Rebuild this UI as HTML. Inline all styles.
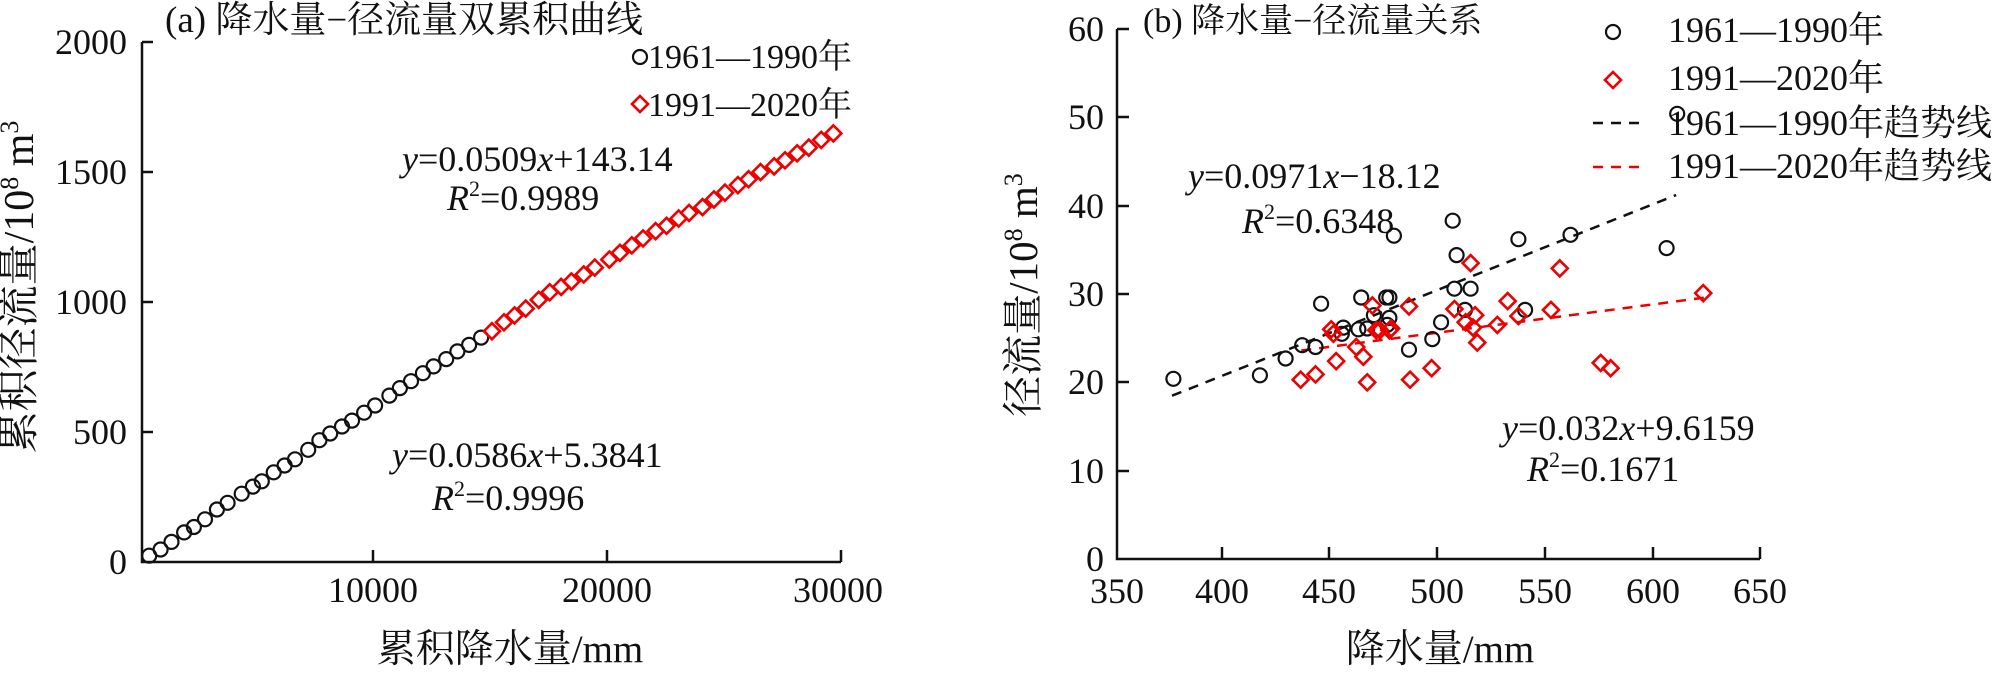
<!DOCTYPE html>
<html><head><meta charset="utf-8"><style>
html,body{margin:0;padding:0;background:#fff;}
svg{display:block;font-family:"Liberation Serif","Noto Serif CJK SC","Noto Sans CJK SC",serif;}
</style></head><body>
<svg id="s" width="2000" height="674" xmlns="http://www.w3.org/2000/svg">
<g stroke="#111" stroke-width="2.5" fill="none">
<polyline points="142,42 142,562 841,562"/>
<line x1="142" y1="42" x2="153" y2="42"/><line x1="142" y1="172" x2="153" y2="172"/>
<line x1="142" y1="302" x2="153" y2="302"/><line x1="142" y1="432" x2="153" y2="432"/>
<line x1="373" y1="562" x2="373" y2="550"/><line x1="607" y1="562" x2="607" y2="550"/><line x1="841" y1="562" x2="841" y2="550"/>
<polyline points="1117,29 1117,559 1760,559"/>
<line x1="1117" y1="29" x2="1129" y2="29"/><line x1="1117" y1="117" x2="1129" y2="117"/>
<line x1="1117" y1="206" x2="1129" y2="206"/><line x1="1117" y1="294" x2="1129" y2="294"/>
<line x1="1117" y1="382" x2="1129" y2="382"/><line x1="1117" y1="471" x2="1129" y2="471"/>
<line x1="1222" y1="559" x2="1222" y2="547"/><line x1="1329" y1="559" x2="1329" y2="547"/>
<line x1="1437" y1="559" x2="1437" y2="547"/><line x1="1545" y1="559" x2="1545" y2="547"/>
<line x1="1653" y1="559" x2="1653" y2="547"/><line x1="1760" y1="559" x2="1760" y2="547"/>
</g>
<g font-size="36" fill="#111" text-anchor="end">
<text x="127" y="54">2000</text><text x="127" y="184">1500</text><text x="127" y="314">1000</text>
<text x="127" y="444">500</text><text x="127" y="574">0</text>
<text x="1104" y="41">60</text><text x="1104" y="129">50</text><text x="1104" y="218">40</text>
<text x="1104" y="306">30</text><text x="1104" y="394">20</text><text x="1104" y="483">10</text><text x="1104" y="571">0</text>
</g>
<g font-size="36" fill="#111" text-anchor="middle">
<text x="373" y="602">10000</text><text x="607" y="602">20000</text><text x="838" y="602">30000</text>
<text x="1117" y="603">350</text><text x="1222" y="603">400</text><text x="1329" y="603">450</text>
<text x="1437" y="603">500</text><text x="1545" y="603">550</text><text x="1653" y="603">600</text><text x="1760" y="603">650</text>
</g>
<g font-size="39" fill="#111">
<text x="510" y="662" text-anchor="middle">累积降水量/mm</text>
<text x="1440" y="662" text-anchor="middle">降水量/mm</text>
<text transform="translate(33,287) rotate(-90)" text-anchor="middle" font-size="42">累积径流量/10<tspan font-size="26" dy="-15">8</tspan><tspan dy="15"> m</tspan><tspan font-size="26" dy="-15">3</tspan></text>
<text transform="translate(1037,295) rotate(-90)" text-anchor="middle" font-size="41">径流量/10<tspan font-size="26" dy="-15">8</tspan><tspan dy="15"> m</tspan><tspan font-size="26" dy="-15">3</tspan></text>
</g>
<g fill="#111">
<text x="165" y="32" font-size="37">(a) 降水量−径流量双累积曲线</text>
<text x="1143" y="32" font-size="34">(b) 降水量−径流量关系</text>
<text x="648" y="68" font-size="34">1961—1990年</text>
<text x="648" y="116" font-size="34">1991—2020年</text>
</g>
<g font-size="36" fill="#111">
<text x="1668" y="42">1961—1990年</text>
<text x="1668" y="90">1991—2020年</text>
<text x="1668" y="135">1961—1990年趋势线</text>
<text x="1668" y="178">1991—2020年趋势线</text>
<text x="402" y="171"><tspan font-style="italic">y</tspan>=0.0509<tspan font-style="italic">x</tspan>+143.14</text>
<text x="447" y="210"><tspan font-style="italic">R</tspan><tspan font-size="22" dy="-14">2</tspan><tspan dy="14">=0.9989</tspan></text>
<text x="392" y="467"><tspan font-style="italic">y</tspan>=0.0586<tspan font-style="italic">x</tspan>+5.3841</text>
<text x="432" y="510"><tspan font-style="italic">R</tspan><tspan font-size="22" dy="-14">2</tspan><tspan dy="14">=0.9996</tspan></text>
<text x="1188" y="188"><tspan font-style="italic">y</tspan>=0.0971<tspan font-style="italic">x</tspan>−18.12</text>
<text x="1242" y="233"><tspan font-style="italic">R</tspan><tspan font-size="22" dy="-14">2</tspan><tspan dy="14">=0.6348</tspan></text>
<text x="1502" y="440"><tspan font-style="italic">y</tspan>=0.032<tspan font-style="italic">x</tspan>+9.6159</text>
<text x="1527" y="481"><tspan font-style="italic">R</tspan><tspan font-size="22" dy="-14">2</tspan><tspan dy="14">=0.1671</tspan></text>
</g>
<line x1="1593" y1="123" x2="1641" y2="123" stroke="#111" stroke-width="2.5" stroke-dasharray="10,8"/>
<line x1="1593" y1="167" x2="1641" y2="167" stroke="#e00" stroke-width="2.5" stroke-dasharray="10,8"/>
<g id="pts"></g>
</svg>
<script>
var B=[[377.6,20.4],[417.8,20.8],[429.7,22.7],[437.4,24.2],[443.6,24.0],[446.2,28.9],[455.8,25.5],[456.5,26.2],[463.5,26.0],[464.8,29.6],[467.6,26.1],[470.7,27.6],[476.4,29.6],[477.9,29.6],[477.9,27.3],[476.9,26.5],[480,36.6],[487,23.7],[497.8,24.9],[501.9,26.8],[507.3,38.3],[508.1,30.6],[509.1,34.4],[513,28.2],[515.6,30.6],[537.8,36.2],[540.9,28.2],[562,36.7],[606.6,35.2],[611.5,50.4]];
var R=[[436.7,20.3],[443.6,20.9],[450.9,26.0],[451.9,25.5],[453.2,22.4],[462.5,24.0],[465.8,22.9],[467.6,20.0],[470,28.7],[471.8,25.9],[473.5,25.9],[477.9,25.9],[478.7,26.1],[487,28.6],[487.5,20.3],[497.5,21.6],[508.1,28.3],[513.3,26.8],[515.6,33.5],[516.7,26.2],[517.7,27.6],[518.7,24.5],[528,26.5],[532.8,29.2],[537.8,27.5],[552.9,28.2],[557,32.9],[576,22.2],[580.6,21.6],[623.6,30.1]];
var g=document.getElementById('pts'),h='';
function bx(v){return 1437+(v-500)*2.154;}function by(v){return 559-v*8.833;}
function ax(v){return 139+v*0.0234;}function ay(v){return 562-v*0.26;}
function circ(x,y){h+='<circle cx="'+x.toFixed(1)+'" cy="'+y.toFixed(1)+'" r="7" fill="none" stroke="#111" stroke-width="2.2"/>';}
function dia(x,y){var d=8;h+='<polygon points="'+x+','+(y-d)+' '+(x+d)+','+y+' '+x+','+(y+d)+' '+(x-d)+','+y+'" fill="none" stroke="#e00" stroke-width="2.6"/>';}
h+='<line x1="'+bx(377)+'" y1="'+by(0.0971*377-18.12)+'" x2="'+bx(611)+'" y2="'+by(0.0971*611-18.12)+'" stroke="#111" stroke-width="2.5" stroke-dasharray="10,8"/>';
h+='<line x1="'+bx(437)+'" y1="'+by(0.032*437+9.6159)+'" x2="'+bx(624)+'" y2="'+by(0.032*624+9.6159)+'" stroke="#e00" stroke-width="2.5" stroke-dasharray="10,8"/>';
B.forEach(function(p){circ(bx(p[0]),by(p[1]));});
R.forEach(function(p){dia(bx(p[0]),by(p[1]));});
var order=[3,17,9,25,1,12,20,6,28,14,0,22,10,4,27,16,8,19,2,24,11,29,5,15,21,7,26,13,18,23];
var cx=0,cy=0;
order.forEach(function(i){var p=B[i];cx+=p[0];cy+=Math.min(p[1],38);circ(ax(cx),ay(cy));});
var order2=[5,18,2,11,26,8,14,0,22,9,29,3,16,12,24,7,20,1,27,13,10,25,4,17,28,6,19,15,23,21];
order2.forEach(function(i){var p=R[i];cx+=p[0];cy+=p[1]*1.02;dia(ax(cx),ay(cy));});
circ(640,57);dia(640,104);
circ(1613,32);dia(1613,80);
g.innerHTML=h;
</script>
</body></html>
